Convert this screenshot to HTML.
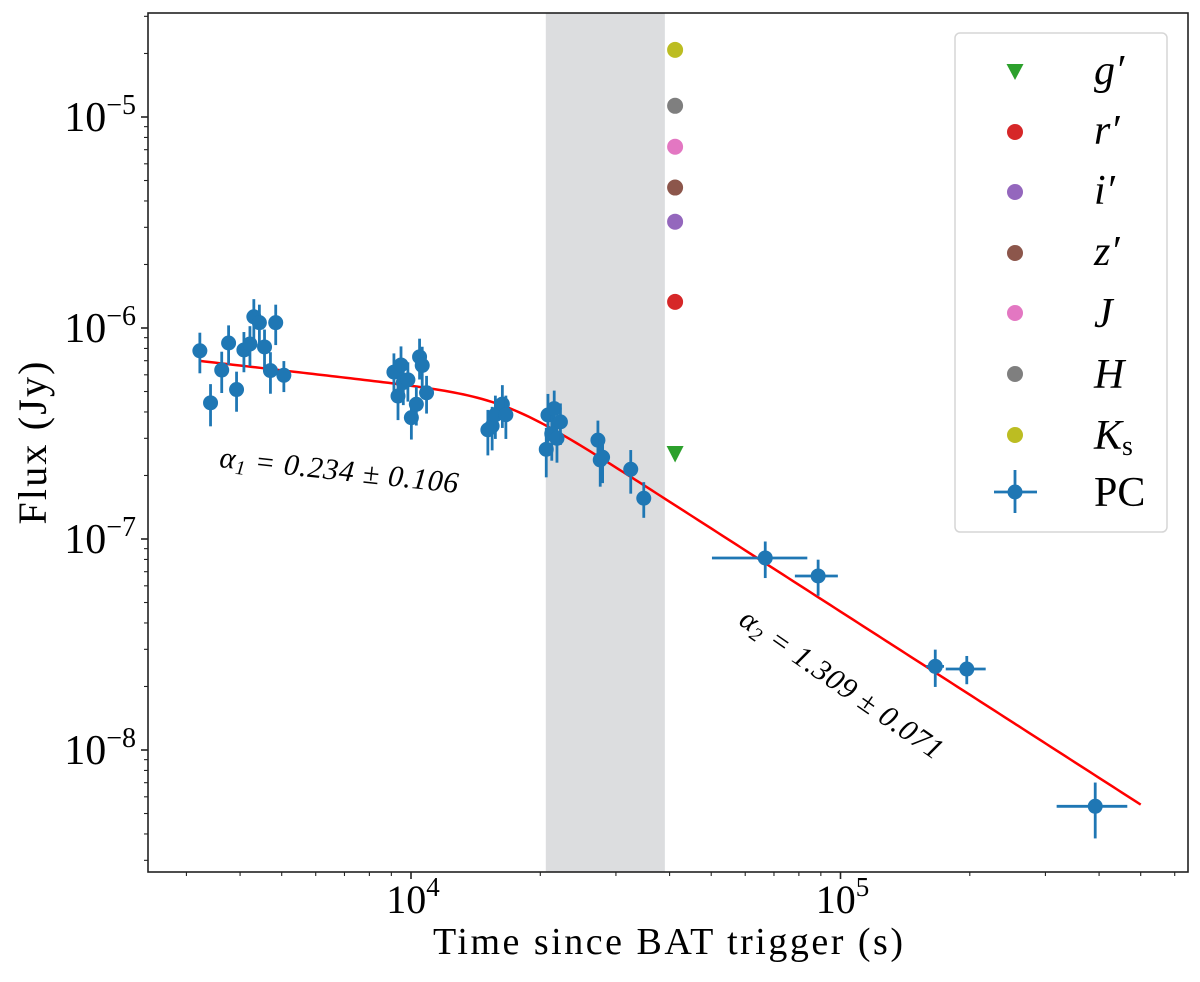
<!DOCTYPE html>
<html><head><meta charset="utf-8"><style>
html,body{margin:0;padding:0;background:#fff;}
svg{display:block;}
text{font-family:"Liberation Serif",serif;}
</style></head><body>
<svg id="chart" width="1200" height="982" viewBox="0 0 1200 982" xmlns="http://www.w3.org/2000/svg"></svg>
<script>
// ---- data ----
const pcTimes = [3224,3414,3625,3761,3925,4083,4217,4306,4436,4560,4707,4842,5058,
  9125,9327,9478,9596,9835,10020,10290,10470,10620,10870,
  15100,15450,15720,16320,16630,
  20650,20840,21270,21550,21870,22280,
  27240,27580,27930,32480,34830,
  66800,88700,166200,196800,391800];
const pcFlux = [7.80e-7,4.42e-7,6.32e-7,8.49e-7,5.11e-7,7.87e-7,8.40e-7,1.13e-6,1.06e-6,8.13e-7,6.28e-7,1.06e-6,5.97e-7,
  6.18e-7,4.76e-7,6.68e-7,5.51e-7,5.68e-7,3.76e-7,4.35e-7,7.30e-7,6.65e-7,4.93e-7,
  3.29e-7,3.43e-7,3.88e-7,4.36e-7,3.88e-7,
  2.66e-7,3.87e-7,3.15e-7,4.15e-7,3.00e-7,3.59e-7,
  2.94e-7,2.37e-7,2.44e-7,2.14e-7,1.56e-7,
  8.13e-8,6.68e-8,2.49e-8,2.42e-8,5.41e-9];
const pcFluxErr = [1.7e-7,1.0e-7,1.4e-7,1.8e-7,1.1e-7,1.7e-7,1.8e-7,2.4e-7,2.3e-7,1.7e-7,1.4e-7,2.3e-7,1.0e-7,
  1.4e-7,1.1e-7,1.5e-7,1.2e-7,1.2e-7,0.8e-7,0.9e-7,1.6e-7,1.5e-7,1.0e-7,
  0.8e-7,0.8e-7,0.9e-7,1.0e-7,0.9e-7,
  0.7e-7,1.0e-7,0.8e-7,0.9e-7,0.7e-7,0.8e-7,
  0.7e-7,0.6e-7,0.6e-7,0.5e-7,0.3e-7,
  1.6e-8,1.3e-8,5.0e-9,3.7e-9,1.6e-9];
const pcTimeErrLo = [0,0,0,0,0,0,0,0,0,0,0,0,0, 0,0,0,0,0,0,0,0,0,0, 0,0,0,0,0, 0,0,0,0,0,0, 0,0,0,0,0, 16600,10400,8000,21000,73200];
const pcTimeErrHi = [0,0,0,0,0,0,0,0,0,0,0,0,0, 0,0,0,0,0,0,0,0,0,0, 0,0,0,0,0, 0,0,0,0,0,0, 0,0,0,0,0, 16900,9900,8000,21000,73500];
const photBands = ["g","r","i","z","J","H","Ks"];
const photTimes = [41200,41200,41200,41200,41200,41200,41200];
const photFlux = [2.53e-7,1.33e-6,3.19e-6,4.63e-6,7.23e-6,1.13e-5,2.08e-5];
const photColors = ["#2ca02c","#d62728","#9467bd","#8c564b","#e377c2","#7f7f7f","#bcbd22"];
const fitBreak = [16580, 4.76e-7];
const fitSlopes = [0.234, 1.309];
const fitRange = [3224, 500000];
const shadeRange = [20600, 39000];
const xTickExps = [4,5];
const yTickExps = [-5,-6,-7,-8];

// ---- axes ----
const L=148,R=1188,T=13,B=872;
const X = t => 411 + 429.5*(Math.log10(t)-4);
const Y = f => 117 + 211*(-5 - Math.log10(f));
const NS="http://www.w3.org/2000/svg";
const svg=document.getElementById('chart');
function mk(tag,attrs,parent){const e=document.createElementNS(NS,tag);for(const k in attrs)e.setAttribute(k,attrs[k]);(parent||svg).appendChild(e);return e;}

const clipDef=mk('defs',{});
const cp=mk('clipPath',{id:'plotclip'},clipDef);
mk('rect',{x:L,y:T,width:R-L,height:B-T},cp);
const plot=mk('g',{'clip-path':'url(#plotclip)'});



// shaded band
const band=mk('rect',{x:X(shadeRange[0]),y:T,width:X(shadeRange[1])-X(shadeRange[0]),height:B-T,fill:'#dcdddf'},plot);



// fit line
let pts=[];
const s=6;
for(let i=0;i<=200;i++){
  const lt=Math.log10(fitRange[0])+(Math.log10(fitRange[1])-Math.log10(fitRange[0]))*i/200;
  const t=Math.pow(10,lt);const r=t/fitBreak[0];
  const f=fitBreak[1]*Math.pow(Math.pow(r,s*fitSlopes[0])+Math.pow(r,s*fitSlopes[1]),-1/s);
  pts.push(X(t).toFixed(2)+','+Y(f).toFixed(2));
}
const fit=mk('polyline',{points:pts.join(' '),fill:'none',stroke:'#ff0000','stroke-width':2.5},plot);



// PC points
for(let i=0;i<pcTimes.length;i++){
  const g=mk('g',{},plot);
  
  
  const cx=X(pcTimes[i]),cy=Y(pcFlux[i]);
  mk('line',{x1:cx,x2:cx,y1:Y(pcFlux[i]+pcFluxErr[i]),y2:Y(Math.max(pcFlux[i]-pcFluxErr[i],1e-12)),stroke:'#1f77b4','stroke-width':2.8},g);
  if(pcTimeErrLo[i]>0||pcTimeErrHi[i]>0){
    mk('line',{x1:X(pcTimes[i]-pcTimeErrLo[i]),x2:X(pcTimes[i]+pcTimeErrHi[i]),y1:cy,y2:cy,stroke:'#1f77b4','stroke-width':2.8},g);
  }
  mk('circle',{cx:cx,cy:cy,r:7.5,fill:'#1f77b4'},g);
}

// photometry
for(let i=0;i<photBands.length;i++){
  const cx=X(photTimes[i]),cy=Y(photFlux[i]);
  let e;
  if(photBands[i]==='g'){
    e=mk('polygon',{points:`${cx-8.5},${cy-8} ${cx+8.5},${cy-8} ${cx},${cy+8.5}`,fill:photColors[i]},plot);
  } else {
    e=mk('circle',{cx:cx,cy:cy,r:8,fill:photColors[i]},plot);
  }
  
  
}

// frame
const frame=mk('rect',{x:L,y:T,width:R-L,height:B-T,fill:'none',stroke:'#222','stroke-width':1.6});



// x ticks
for(let e=3;e<=5;e++){
  for(let m=1;m<=9;m++){
    const t=m*Math.pow(10,e);const x=X(t);
    if(x<L||x>R)continue;
    const len=(m===1)?7:4;
    const tk=mk('line',{x1:x,x2:x,y1:B,y2:B+len,stroke:'#222','stroke-width':(m===1)?1.6:1.1});
    
    
  }
}
xTickExps.forEach(e=>{
  const x=X(Math.pow(10,e));
  const tx=mk('text',{x:x+2,y:913,'font-size':40,'text-anchor':'middle',fill:'#000'});
  
  
  const a=mk('tspan',{},tx);a.textContent='10';
  const b=mk('tspan',{'font-size':27,dy:-17},tx);b.textContent=String(e);
});
// y ticks
for(let e=-9;e<=-5;e++){
  for(let m=1;m<=9;m++){
    const f=m*Math.pow(10,e);const y=Y(f);
    if(y<T||y>B)continue;
    const len=(m===1)?7:4;
    const tk=mk('line',{x1:L-len,x2:L,y1:y,y2:y,stroke:'#222','stroke-width':(m===1)?1.6:1.1});
    
    
  }
}
yTickExps.forEach(e=>{
  const y=Y(Math.pow(10,e));
  const tx=mk('text',{x:136,y:y+14,'font-size':42,'text-anchor':'end',fill:'#000'});
  
  
  const a=mk('tspan',{},tx);a.textContent='10';
  const b=mk('tspan',{'font-size':28,dy:-17},tx);b.textContent='\u2212'+String(-e);
});
</script>

<svg width="1200" height="982" style="position:absolute;left:0;top:0;pointer-events:none" xmlns="http://www.w3.org/2000/svg">
  <text x="668" y="954" font-size="38" text-anchor="middle" textLength="470" style="font-family:'Liberation Serif',serif">Time since BAT trigger (s)</text>
  <text transform="translate(46,443) rotate(-90)" font-size="40" text-anchor="middle" textLength="163" style="font-family:'Liberation Serif',serif">Flux (Jy)</text>
  <text transform="translate(338,480) rotate(6.2)" font-size="30" font-style="italic" text-anchor="middle" textLength="240" style="font-family:'Liberation Serif',serif">α<tspan font-size="20" dy="5">1</tspan><tspan dy="-5"> = 0.234 ± 0.106</tspan></text>
  <text transform="translate(836,692) rotate(34.8)" font-size="30" font-style="italic" text-anchor="middle" textLength="240" style="font-family:'Liberation Serif',serif">α<tspan font-size="20" dy="5">2</tspan><tspan dy="-5"> = 1.309 ± 0.071</tspan></text>
  <g>
    <rect x="955" y="33" width="212" height="499" rx="5" fill="#fff" fill-opacity="0.8" stroke="#d6d6d6" stroke-width="1.5"/>
    <g style="font-family:'Liberation Serif',serif" font-size="42" font-style="italic">
      <g><polygon points="1006.5,64 1023.5,64 1015,80" fill="#2ca02c"/><text x="1094" y="84">g′</text></g>
      <g><circle cx="1015" cy="132" r="8" fill="#d62728"/><text x="1094" y="144">r′</text></g>
      <g><circle cx="1015" cy="192" r="8" fill="#9467bd"/><text x="1094" y="204">i′</text></g>
      <g><circle cx="1015" cy="253" r="8" fill="#8c564b"/><text x="1094" y="265">z′</text></g>
      <g><circle cx="1015" cy="313" r="8" fill="#e377c2"/><text x="1094" y="327">J</text></g>
      <g><circle cx="1015" cy="374" r="8" fill="#7f7f7f"/><text x="1094" y="388">H</text></g>
      <g><circle cx="1015" cy="435" r="8" fill="#bcbd22"/><text x="1094" y="449">K<tspan font-style="normal" font-size="28" dy="6">s</tspan></text></g>
      <g><line x1="994" x2="1037" y1="492" y2="492" stroke="#1f77b4" stroke-width="2.8"/><line x1="1015" x2="1015" y1="470" y2="513" stroke="#1f77b4" stroke-width="2.8"/><circle cx="1015" cy="492" r="7.5" fill="#1f77b4"/><text x="1094" y="506" font-style="normal">PC</text></g>
    </g>
  </g>
</svg>
</body></html>
